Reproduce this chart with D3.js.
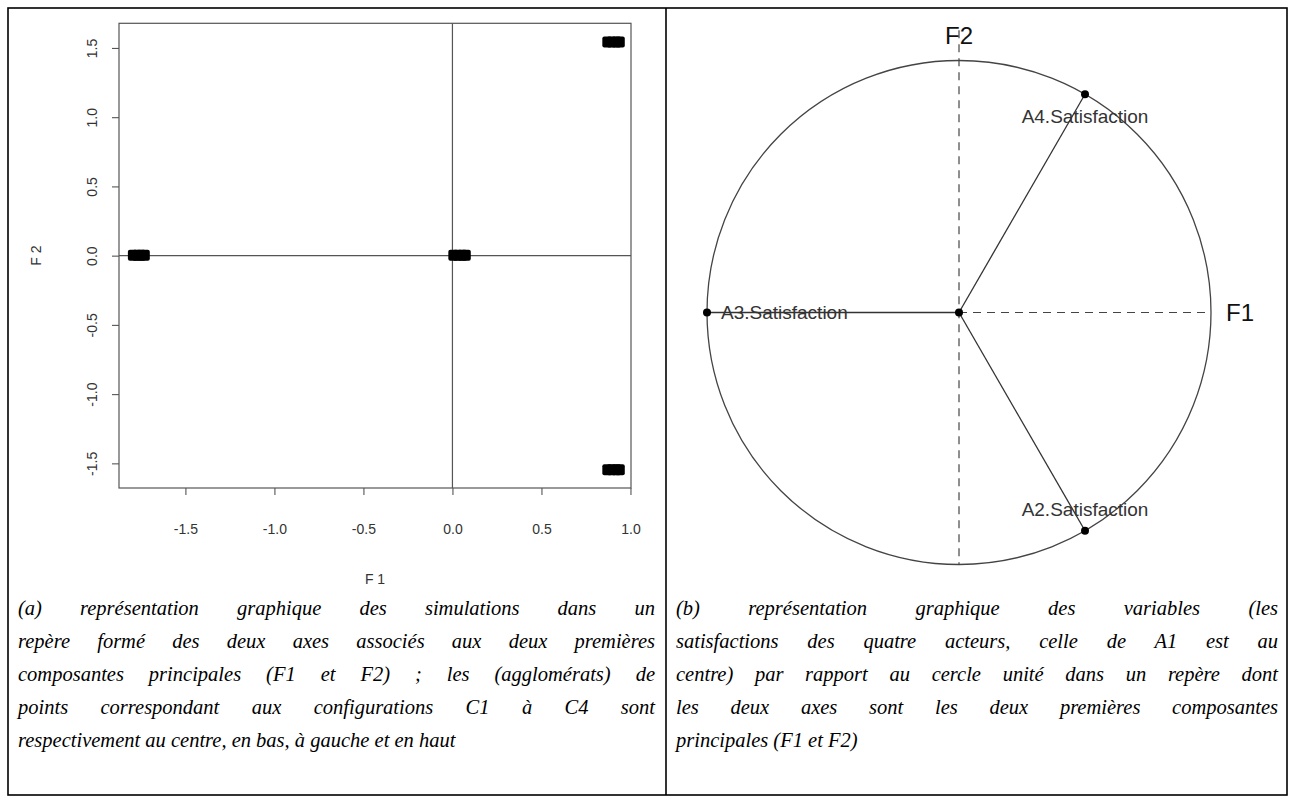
<!DOCTYPE html>
<html>
<head>
<meta charset="utf-8">
<script src="https://cdn.jsdelivr.net/npm/d3@7"></script>
<style>
  html, body { margin: 0; padding: 0; background: #fff; }
  #wrap { position: relative; width: 1295px; height: 807px; overflow: hidden; }
  svg { position: absolute; left: 0; top: 0; }
  .cap { position: absolute; font-family: "Liberation Serif", "Times New Roman", serif; font-style: italic;
         font-size: 20.5px; line-height: 33px; color: #000; }
  .cap div { text-align: justify; text-align-last: justify; white-space: nowrap; }
  .cap div.last { text-align-last: left; }
</style>
</head>
<body>
<div id="wrap"></div>
<script>
// ---------------- data ----------------
// (a) simulations in the F1/F2 plane: clusters C1 (centre), C2 (bottom), C3 (left), C4 (top)
const simF1 = [0.005, 0.03, 0.055, 0.075,
               0.87, 0.895, 0.92, 0.94,
               -1.795, -1.77, -1.75, -1.728,
               0.87, 0.895, 0.92, 0.94];
const simF2 = [0, 0, 0, 0,
               -1.55, -1.55, -1.55, -1.55,
               0, 0, 0, 0,
               1.54, 1.54, 1.54, 1.54];
const xLimits = [-1.873, 1.003];
const yLimits = [-1.678, 1.678];
const xTicks = [-1.5, -1.0, -0.5, 0.0, 0.5, 1.0];
const xTickLabels = ["-1.5", "-1.0", "-0.5", "0.0", "0.5", "1.0"];
const yTicks = [-1.5, -1.0, -0.5, 0.0, 0.5, 1.0, 1.5];
const yTickLabels = ["-1.5", "-1.0", "-0.5", "0.0", "0.5", "1.0", "1.5"];
const xAxisTitle = "F 1";
const yAxisTitle = "F 2";

// (b) variables on the unit circle
const varNames = ["A1.Satisfaction", "A2.Satisfaction", "A3.Satisfaction", "A4.Satisfaction"];
const varF1 = [0, 0.5, -1, 0.5];
const varF2 = [0, -0.866, 0, 0.866];
const varLabelPos = ["none", "above", "right", "below"];
const circleAxisNames = ["F1", "F2"];

// captions
const captionA = [
  "(a) représentation graphique des simulations dans un",
  "repère formé des deux axes associés aux deux premières",
  "composantes principales (F1 et F2) ; les (agglomérats) de",
  "points correspondant aux configurations C1 à C4 sont",
  "respectivement au centre, en bas, à gauche et en haut"
];
const captionB = [
  "(b) représentation graphique des variables (les",
  "satisfactions des quatre acteurs, celle de A1 est au",
  "centre) par rapport au cercle unité dans un repère dont",
  "les deux axes sont les deux premières composantes",
  "principales (F1 et F2)"
];

// ---------------- drawing ----------------
const W = 1295, H = 807;
const wrap = d3.select("#wrap");
const svg = wrap.append("svg").attr("width", W).attr("height", H);

// table borders
const bx0 = 8, bx1 = 1287, by0 = 8, by1 = 795, bmid = 666;
const border = svg.append("g").attr("stroke", "#000").attr("stroke-width", 1.6).attr("fill", "none");
border.append("rect").attr("x", bx0).attr("y", by0).attr("width", bx1 - bx0).attr("height", by1 - by0);
border.append("line").attr("x1", bmid).attr("x2", bmid).attr("y1", by0).attr("y2", by1);

// ---- panel (a) ----
const pa = { left: 119, right: 631, top: 23.3, bottom: 488 };
const x = d3.scaleLinear().domain(xLimits).range([pa.left, pa.right]);
const y = d3.scaleLinear().domain(yLimits).range([pa.bottom, pa.top]);
const ga = svg.append("g");

// reference lines at 0
ga.append("line").attr("x1", pa.left).attr("x2", pa.right).attr("y1", y(0)).attr("y2", y(0))
  .attr("stroke", "#555").attr("stroke-width", 1.2);
ga.append("line").attr("x1", x(0)).attr("x2", x(0)).attr("y1", pa.top).attr("y2", pa.bottom)
  .attr("stroke", "#555").attr("stroke-width", 1.2);

// points (overlapping markers forming clusters)
ga.append("g").selectAll("rect").data(simF1.map((v, i) => [v, simF2[i]])).join("rect")
  .attr("x", d => x(d[0]) - 5).attr("y", d => y(d[1]) - 6)
  .attr("width", 10).attr("height", 11).attr("rx", 2)
  .attr("fill", "#000");

// box
ga.append("rect").attr("x", pa.left).attr("y", pa.top)
  .attr("width", pa.right - pa.left).attr("height", pa.bottom - pa.top)
  .attr("fill", "none").attr("stroke", "#555").attr("stroke-width", 1.2);

// axes
const xAxis = d3.axisBottom(x).tickValues(xTicks).tickSize(7).tickPadding(29)
  .tickFormat((d, i) => xTickLabels[i]);
const gx = ga.append("g").attr("transform", `translate(0,${pa.bottom})`).call(xAxis);
const yAxis = d3.axisLeft(y).tickValues(yTicks).tickSize(7).tickPadding(18)
  .tickFormat((d, i) => yTickLabels[i]);
const gy = ga.append("g").attr("transform", `translate(${pa.left},0)`).call(yAxis);
[gx, gy].forEach(g => {
  g.select(".domain").remove();
  g.selectAll(".tick line").attr("stroke", "#555").attr("stroke-width", 1.1);
  g.selectAll("text").attr("font-family", "Liberation Sans, Arial, sans-serif")
    .attr("font-size", 14).attr("fill", "#333");
});
gy.selectAll(".tick text")
  .attr("text-anchor", "middle").attr("x", null).attr("dy", null)
  .attr("transform", "translate(-27,0) rotate(-90)")
  .attr("dy", "0.35em");

ga.append("text").attr("x", (pa.left + pa.right) / 2).attr("y", 584)
  .attr("text-anchor", "middle").attr("font-family", "Liberation Sans, Arial, sans-serif")
  .attr("font-size", 14).attr("fill", "#333").text(xAxisTitle);
ga.append("text").attr("transform", `translate(41,${y(0)}) rotate(-90)`)
  .attr("text-anchor", "middle").attr("font-family", "Liberation Sans, Arial, sans-serif")
  .attr("font-size", 14).attr("fill", "#333").text(yAxisTitle);

// ---- panel (b) ----
const cx = 959, cy = 312.5, R = 252;
const u = d3.scaleLinear().domain([-1, 1]).range([cx - R, cx + R]);
const v = d3.scaleLinear().domain([-1, 1]).range([cy + R, cy - R]);
const gb = svg.append("g");

gb.append("circle").attr("cx", u(0)).attr("cy", v(0)).attr("r", u(1) - u(0))
  .attr("fill", "none").attr("stroke", "#444").attr("stroke-width", 1.3);

// dashed axes
gb.append("line").attr("x1", u(-1)).attr("x2", u(1)).attr("y1", v(0)).attr("y2", v(0))
  .attr("stroke", "#444").attr("stroke-width", 1.2).attr("stroke-dasharray", "8,6");
gb.append("line").attr("x1", u(0)).attr("x2", u(0)).attr("y1", v(1.12)).attr("y2", v(-1))
  .attr("stroke", "#444").attr("stroke-width", 1.2).attr("stroke-dasharray", "8,6");

// axis names
gb.append("text").attr("x", u(1) + 29).attr("y", v(0)).attr("dy", "0.35em")
  .attr("text-anchor", "middle").attr("font-family", "Liberation Sans, Arial, sans-serif")
  .attr("font-size", 24).attr("fill", "#111").text(circleAxisNames[0]);
gb.append("text").attr("x", u(0)).attr("y", 44)
  .attr("text-anchor", "middle").attr("font-family", "Liberation Sans, Arial, sans-serif")
  .attr("font-size", 24).attr("fill", "#111").text(circleAxisNames[1]);

// variable segments and points
const vars = varNames.map((n, i) => ({ name: n, f1: varF1[i], f2: varF2[i], pos: varLabelPos[i] }));
gb.append("g").selectAll("line").data(vars).join("line")
  .attr("x1", u(0)).attr("y1", v(0)).attr("x2", d => u(d.f1)).attr("y2", d => v(d.f2))
  .attr("stroke", "#333").attr("stroke-width", 1.3);
gb.append("g").selectAll("circle").data(vars).join("circle")
  .attr("cx", d => u(d.f1)).attr("cy", d => v(d.f2)).attr("r", 4).attr("fill", "#000");
gb.append("g").selectAll("text").data(vars.filter(d => d.pos !== "none")).join("text")
  .attr("font-family", "Liberation Sans, Arial, sans-serif").attr("font-size", 19).attr("fill", "#333")
  .attr("text-anchor", d => d.pos === "right" ? "start" : "middle")
  .attr("x", d => d.pos === "right" ? u(d.f1) + 14 : u(d.f1))
  .attr("y", d => d.pos === "below" ? v(d.f2) + 29 : d.pos === "above" ? v(d.f2) - 15 : v(d.f2))
  .attr("dy", d => d.pos === "right" ? "0.35em" : null)
  .text(d => d.name);

// ---- captions ----
function caption(lines, left, width) {
  const box = wrap.append("div").attr("class", "cap")
    .style("left", left + "px").style("top", "592px").style("width", width + "px");
  box.selectAll("div").data(lines).join("div")
    .attr("class", (d, i) => i === lines.length - 1 ? "last" : null)
    .text(d => d);
}
caption(captionA, 18, 637);
caption(captionB, 676, 602);
</script>
</body>
</html>
